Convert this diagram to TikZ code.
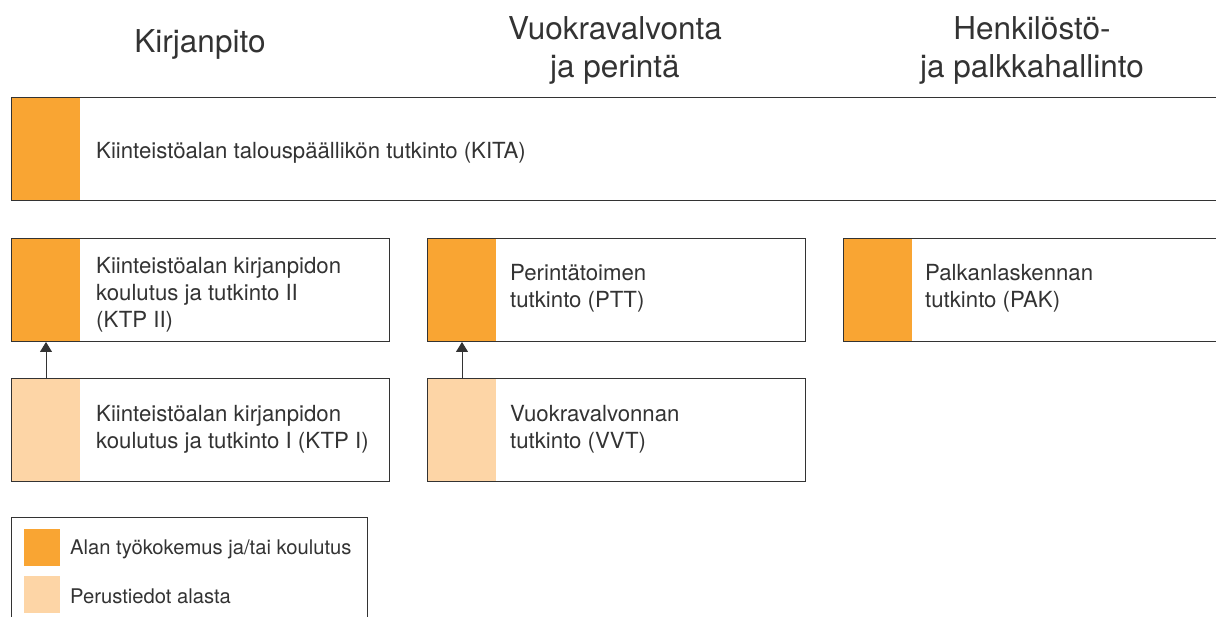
\documentclass[tikz,border=0pt]{standalone}
\usepackage{fontspec}
\setmainfont{TeX Gyre Heros}
\usetikzlibrary{arrows.meta}
\definecolor{dark}{HTML}{333333}
\definecolor{strong}{HTML}{F9A533}
\definecolor{pale}{HTML}{FDD5A6}
\tikzset{
  box/.style={draw=dark, line width=1pt, fill=white, minimum height=103pt, inner sep=0pt, anchor=north west},
  stripbox/.style={box, path picture={\fill[#1] (path picture bounding box.north west) rectangle ([xshift=68pt]path picture bounding box.south west);}},
  boxtext/.style={anchor=west, align=left, text=dark, inner sep=0pt, font=\fontsize{22.2}{27}\selectfont},
  head/.style={align=center, text=dark, inner sep=0pt, font=\fontsize{31.5}{38}\selectfont},
  legtext/.style={anchor=west, text=dark, inner sep=0pt, font=\fontsize{20.2}{22}\selectfont},
  arr/.style={draw=dark, line width=1pt, -{Triangle[width=12pt,length=10pt]}},
  swatch/.style={inner sep=0pt, minimum width=36pt, minimum height=37pt, anchor=north west}
}
\begin{document}
\begin{tikzpicture}[x=1pt,y=-1pt]
\useasboundingbox (0,0) rectangle (1216,617);
% headers
\node[head] (h1) at (200,44) {Kirjanpito};
\node[head] (h2) at (615,50) {Vuokravalvonta\\ja perintä};
\node[head] (h3) at (1032,50) {Henkilöstö-\\ja palkkahallinto};
% top box
\node[stripbox=strong, minimum width=1220pt] (kita) at (11,97) {};
\node[boxtext] (tkita) at (96,153) {Kiinteistöalan talouspäällikön tutkinto (KITA)};
% second row
\node[stripbox=strong, minimum width=378pt] (ktp2) at (11,238) {};
\node[boxtext] (tktp2) at (96,295) {Kiinteistöalan kirjanpidon\\koulutus ja tutkinto II\\(KTP II)};
\node[stripbox=strong, minimum width=378pt] (ptt) at (427,238) {};
\node[boxtext] (tptt) at (510,288.5) {Perintätoimen\\tutkinto (PTT)};
\node[stripbox=strong, minimum width=378pt] (pak) at (843,238) {};
\node[boxtext] (tpak) at (925,288.5) {Palkanlaskennan\\tutkinto (PAK)};
% third row
\node[stripbox=pale, minimum width=378pt] (ktp1) at (11,378) {};
\node[boxtext] (tktp1) at (96,429.5) {Kiinteistöalan kirjanpidon\\koulutus ja tutkinto I (KTP I)};
\node[stripbox=pale, minimum width=378pt] (vvt) at (427,378) {};
\node[boxtext] (tvvt) at (510,429.5) {Vuokravalvonnan\\tutkinto (VVT)};
% arrows
\draw[arr] ([xshift=35pt]ktp1.north west) -- ([xshift=35pt]ktp2.south west);
\draw[arr] ([xshift=35pt]vvt.north west) -- ([xshift=35pt]ptt.south west);
% legend
\node[draw=dark, line width=1pt, minimum width=356pt, minimum height=110pt, inner sep=0pt, anchor=north west] (leg) at (11,517) {};
\node[swatch, fill=strong] (s1) at (24,529) {};
\node[swatch, fill=pale] (s2) at (24,576) {};
\node[legtext] (l1) at (70,549) {Alan työkokemus ja/tai koulutus};
\node[legtext] (l2) at (70,596) {Perustiedot alasta};
\end{tikzpicture}
\end{document}
